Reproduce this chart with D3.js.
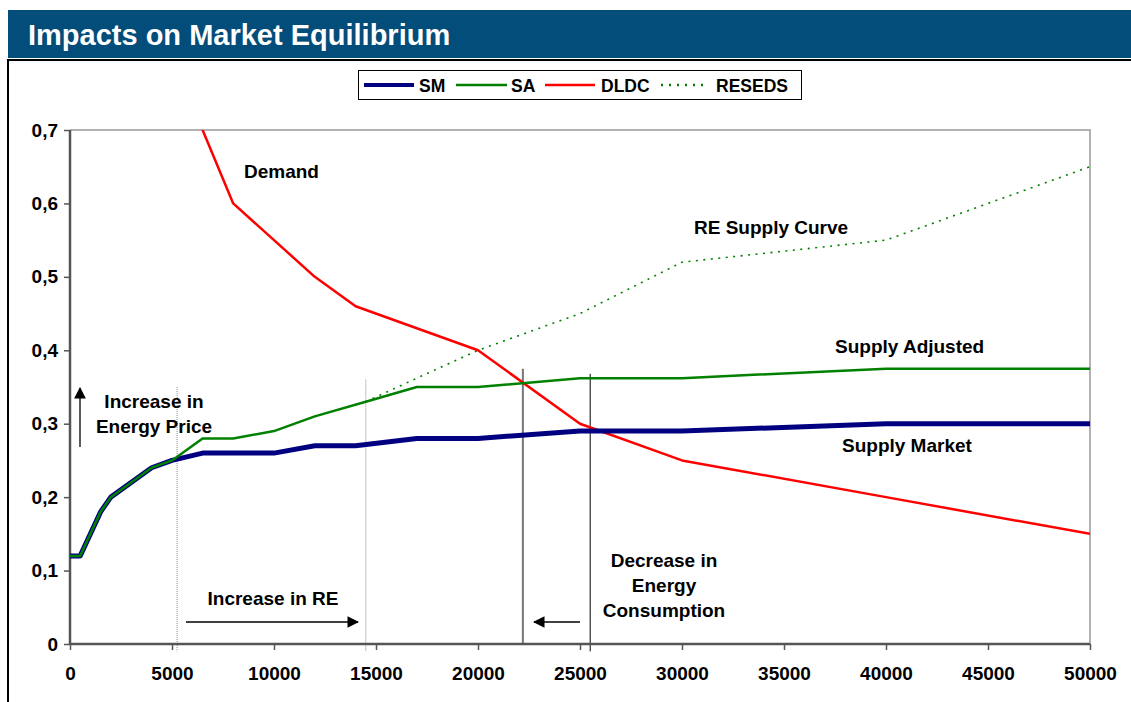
<!DOCTYPE html>
<html>
<head>
<meta charset="utf-8">
<script src="https://cdn.jsdelivr.net/npm/d3@7"></script>
<style>
  body { margin: 0; background: #fff; }
  svg { font-family: "Liberation Sans", Arial, sans-serif; font-weight: bold; }
</style>
</head>
<body>
<div id="chart"></div>
<script>
// data
const smX   = [0, 500, 1500, 2000, 4000, 5000, 6500, 8000, 10000, 12000, 14000, 17000, 20000, 25000, 30000, 40000, 50000];
const smY   = [0.12, 0.12, 0.18, 0.2, 0.24, 0.25, 0.26, 0.26, 0.26, 0.27, 0.27, 0.28, 0.28, 0.29, 0.29, 0.3, 0.3];
const saX   = [0, 500, 1500, 2000, 4000, 5000, 6500, 8000, 10000, 12000, 14500, 17000, 20000, 25000, 30000, 40000, 50000];
const saY   = [0.12, 0.12, 0.18, 0.2, 0.24, 0.25, 0.28, 0.28, 0.29, 0.31, 0.33, 0.35, 0.35, 0.362, 0.362, 0.375, 0.375];
const dldcX = [5000, 8000, 10000, 12000, 14000, 20000, 25000, 30000, 40000, 50000];
const dldcY = [0.8, 0.6, 0.55, 0.5, 0.46, 0.4, 0.3, 0.25, 0.2, 0.15];
const reX   = [14500, 17000, 20000, 25000, 30000, 40000, 50000];
const reY   = [0.33, 0.362, 0.4, 0.45, 0.52, 0.55, 0.65];
const xTickVals = [0, 5000, 10000, 15000, 20000, 25000, 30000, 35000, 40000, 45000, 50000];
const yTickVals = [0, 0.1, 0.2, 0.3, 0.4, 0.5, 0.6, 0.7];

const W = 1131, H = 702;
const plot = {left: 70, right: 1090, top: 130, bottom: 644};

let svg = d3.select("#chart").append("svg")
    .attr("width", W).attr("height", H);

// header band
svg.append("rect").attr("x", 8).attr("y", 10).attr("width", W - 8).attr("height", 48)
    .attr("fill", "#034d7a");
svg.append("text").attr("x", 28).attr("y", 45)
    .attr("fill", "#fff").style("font-size", "29px")
    .text("Impacts on Market Equilibrium");

// frame under the header
svg.append("path").attr("d", `M8,${H} V60 H${W}`)
    .attr("fill", "none").attr("stroke", "#000").attr("stroke-width", 2);

let x = d3.scaleLinear().domain([0, 50000]).range([plot.left, plot.right]);
let y = d3.scaleLinear().domain([0, 0.7]).range([plot.bottom, plot.top]);

// top / right plot border
svg.append("path").attr("d", `M${plot.left},${plot.top} H${plot.right} V${plot.bottom}`)
    .attr("fill", "none").attr("stroke", "#999").attr("stroke-width", 1.5);

svg.append("defs").append("clipPath").attr("id", "clip")
  .append("rect").attr("x", plot.left).attr("y", plot.top)
  .attr("width", plot.right - plot.left).attr("height", plot.bottom - plot.top);

// reference verticals
let refs = [
    {v: 5250, top: 0.35, bot: -0.01, color: "#888", dash: "1,1", w: 1},
    {v: 14500, top: 0.36, bot: -0.01, color: "#888", dash: "1,1", w: 1},
    {v: 22200, top: 0.375, bot: 0, color: "#777", dash: null, w: 2},
    {v: 25500, top: 0.368, bot: -0.01, color: "#000", dash: null, w: 1}
];
svg.append("g").selectAll("line").data(refs).join("line")
    .attr("x1", d => x(d.v)).attr("x2", d => x(d.v))
    .attr("y1", d => y(d.top)).attr("y2", d => y(d.bot))
    .attr("stroke", d => d.color).attr("stroke-width", d => d.w)
    .attr("stroke-dasharray", d => d.dash);

// axes
let yAxis = svg.append("g").attr("transform", `translate(${plot.left},0)`)
    .call(d3.axisLeft(y).tickValues(yTickVals).tickSize(6).tickPadding(6)
        .tickFormat(d => d3.format(".1f")(d).replace(".", ",").replace(/^0,0$/, "0")));
let xAxis = svg.append("g").attr("transform", `translate(0,${plot.bottom})`)
    .call(d3.axisBottom(x).tickValues(xTickVals).tickSize(6).tickPadding(17)
        .tickFormat(d3.format("d")));
[xAxis, yAxis].forEach(g => {
    g.select(".domain").attr("stroke", "#555").attr("stroke-width", 2.5);
    g.selectAll(".tick line").attr("stroke", "#555").attr("stroke-width", 1.5);
    g.selectAll("text").attr("fill", "#000")
        .style("font-size", "19px").style("font-weight", "bold")
        .style("font-family", "'Liberation Sans', Arial, sans-serif");
});
yAxis.select(".domain").attr("d", `M0,${plot.bottom}V${plot.top}`);
xAxis.select(".domain").attr("d", `M${plot.left},0H${plot.right}`);

// series
let line = d3.line().x(d => x(d[0])).y(d => y(d[1]));
let series = [
    {name: "RESEDS", xs: reX,   ys: reY,   color: "#008000", w: 1.6, dash: "2,5.5"},
    {name: "DLDC",   xs: dldcX, ys: dldcY, color: "#ff0000", w: 2.5, dash: null},
    {name: "SM",     xs: smX,   ys: smY,   color: "#000080", w: 5,   dash: null},
    {name: "SA",     xs: saX,   ys: saY,   color: "#008000", w: 2.5, dash: null}
];
svg.append("g").attr("clip-path", "url(#clip)")
  .selectAll("path").data(series).join("path")
    .attr("d", s => line(d3.zip(s.xs, s.ys)))
    .attr("fill", "none").attr("stroke", s => s.color)
    .attr("stroke-width", s => s.w).attr("stroke-dasharray", s => s.dash)
    .attr("stroke-linejoin", "round");

// legend
let lg = svg.append("g");
lg.append("rect").attr("x", 358.5).attr("y", 70.5).attr("width", 443).attr("height", 29)
    .attr("fill", "#fff").attr("stroke", "#000").attr("stroke-width", 1);
let legendItems = [
    {label: "SM", x1: 364, x2: 414, tx: 419, s: series[2]},
    {label: "SA", x1: 456, x2: 507, tx: 511, s: series[3]},
    {label: "DLDC", x1: 545, x2: 595, tx: 601, s: series[1]},
    {label: "RESEDS", x1: 661, x2: 707, tx: 716, s: series[0]}
];
legendItems.forEach(it => {
    lg.append("line").attr("x1", it.x1).attr("x2", it.x2).attr("y1", 85).attr("y2", 85)
        .attr("stroke", it.s.color).attr("stroke-width", it.s.name === "SM" ? 4 : 2.5)
        .attr("stroke-dasharray", it.s.dash ? "2,6" : null);
    lg.append("text").attr("x", it.tx).attr("y", 92).style("font-size", "17.5px").text(it.label);
});

// annotations
let marker = (id, w) => svg.select("defs").append("marker").attr("id", id)
    .attr("viewBox", "0 0 10 10").attr("refX", 9).attr("refY", 5)
    .attr("markerWidth", w).attr("markerHeight", w).attr("orient", "auto")
    .append("path").attr("d", "M0,0 L10,5 L0,10 z").attr("fill", "#000");
marker("arr", 9);

let arrows = [
    {x1: 80, y1: 447, x2: 80, y2: 388},
    {x1: 186, y1: 622, x2: 358, y2: 622},
    {x1: 580, y1: 622, x2: 534, y2: 622}
];
svg.append("g").selectAll("line").data(arrows).join("line")
    .attr("x1", d => d.x1).attr("y1", d => d.y1).attr("x2", d => d.x2).attr("y2", d => d.y2)
    .attr("stroke", "#000").attr("stroke-width", 1.3).attr("marker-end", "url(#arr)");

let notes = [
    {t: "Demand", x: 244, y: 178, a: "start"},
    {t: "RE Supply Curve", x: 694, y: 234, a: "start"},
    {t: "Supply Adjusted", x: 835, y: 353, a: "start"},
    {t: "Supply Market", x: 842, y: 452, a: "start"},
    {t: "Increase in", x: 154, y: 408, a: "middle"},
    {t: "Energy Price", x: 154, y: 433, a: "middle"},
    {t: "Increase in RE", x: 273, y: 605, a: "middle"},
    {t: "Decrease in", x: 664, y: 567, a: "middle"},
    {t: "Energy", x: 664, y: 592, a: "middle"},
    {t: "Consumption", x: 664, y: 617, a: "middle"}
];
svg.append("g").selectAll("text").data(notes).join("text")
    .attr("x", d => d.x).attr("y", d => d.y).attr("text-anchor", d => d.a)
    .style("font-size", "19px").text(d => d.t);
</script>
</body>
</html>
